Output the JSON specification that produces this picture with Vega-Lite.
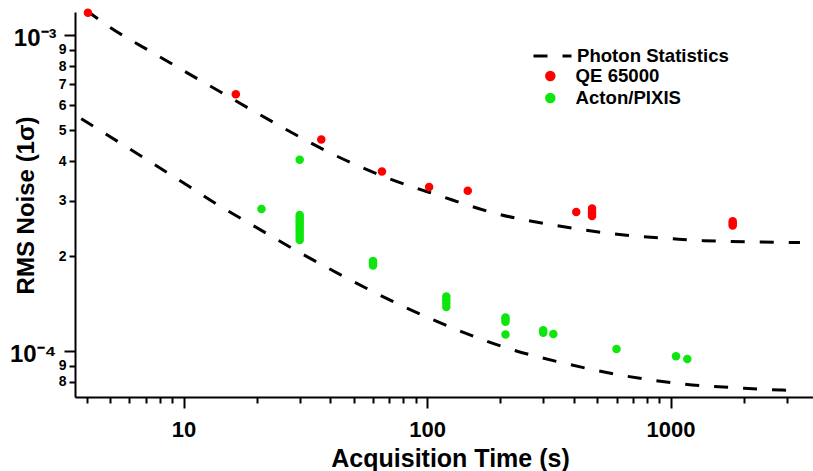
{
  "$schema": "https://vega.github.io/schema/vega-lite/v6.json",
  "width": 738,
  "height": 385,
  "autosize": {"type": "none"},
  "padding": {"left": 75, "top": 12, "right": 0, "bottom": 74},
  "background": "white",
  "config": {"view": {"stroke": null}, "font": "Liberation Sans"},
  "datasets": {
    "curves": [
      {"curve": "upper", "series": "Photon Statistics", "t": 4.0, "v": 0.00120},
      {"curve": "upper", "series": "Photon Statistics", "t": 4.58, "v": 0.00111},
      {"curve": "upper", "series": "Photon Statistics", "t": 8.0, "v": 0.000855},
      {"curve": "upper", "series": "Photon Statistics", "t": 14.53, "v": 0.000655},
      {"curve": "upper", "series": "Photon Statistics", "t": 23.76, "v": 0.000527},
      {"curve": "upper", "series": "Photon Statistics", "t": 39.2, "v": 0.000428},
      {"curve": "upper", "series": "Photon Statistics", "t": 65.95, "v": 0.000358},
      {"curve": "upper", "series": "Photon Statistics", "t": 113, "v": 0.0003105},
      {"curve": "upper", "series": "Photon Statistics", "t": 192, "v": 0.000273},
      {"curve": "upper", "series": "Photon Statistics", "t": 335.6, "v": 0.0002505},
      {"curve": "upper", "series": "Photon Statistics", "t": 586, "v": 0.0002353},
      {"curve": "upper", "series": "Photon Statistics", "t": 1024, "v": 0.000227},
      {"curve": "upper", "series": "Photon Statistics", "t": 1360, "v": 0.000224},
      {"curve": "upper", "series": "Photon Statistics", "t": 3400, "v": 0.000221},
      {"curve": "lower", "series": "Photon Statistics", "t": 3.8, "v": 0.000545},
      {"curve": "lower", "series": "Photon Statistics", "t": 10.63, "v": 0.000331},
      {"curve": "lower", "series": "Photon Statistics", "t": 13.5, "v": 0.000294},
      {"curve": "lower", "series": "Photon Statistics", "t": 17.55, "v": 0.000261},
      {"curve": "lower", "series": "Photon Statistics", "t": 21.96, "v": 0.000236},
      {"curve": "lower", "series": "Photon Statistics", "t": 28.2, "v": 0.000211},
      {"curve": "lower", "series": "Photon Statistics", "t": 46.0, "v": 0.0001718},
      {"curve": "lower", "series": "Photon Statistics", "t": 76.0, "v": 0.0001412},
      {"curve": "lower", "series": "Photon Statistics", "t": 98.8, "v": 0.0001288},
      {"curve": "lower", "series": "Photon Statistics", "t": 219, "v": 0.0001017},
      {"curve": "lower", "series": "Photon Statistics", "t": 375.8, "v": 0.0000912},
      {"curve": "lower", "series": "Photon Statistics", "t": 655, "v": 0.0000835},
      {"curve": "lower", "series": "Photon Statistics", "t": 1147, "v": 0.0000787},
      {"curve": "lower", "series": "Photon Statistics", "t": 2003, "v": 0.0000764},
      {"curve": "lower", "series": "Photon Statistics", "t": 2843, "v": 0.0000754},
      {"curve": "lower", "series": "Photon Statistics", "t": 3400, "v": 0.000075}
    ],
    "points": [
      {"series": "QE 65000", "t": 4.05, "v": 0.00118},
      {"series": "QE 65000", "t": 16.4, "v": 0.000651},
      {"series": "QE 65000", "t": 36.8, "v": 0.000468},
      {"series": "QE 65000", "t": 65.3, "v": 0.000371},
      {"series": "QE 65000", "t": 102, "v": 0.000331},
      {"series": "QE 65000", "t": 147, "v": 0.000322},
      {"series": "QE 65000", "t": 410, "v": 0.000276},
      {"series": "QE 65000", "t": 476, "v": 0.000283},
      {"series": "QE 65000", "t": 476, "v": 0.000278},
      {"series": "QE 65000", "t": 476, "v": 0.000273},
      {"series": "QE 65000", "t": 476, "v": 0.000268},
      {"series": "QE 65000", "t": 1800, "v": 0.000258},
      {"series": "QE 65000", "t": 1800, "v": 0.000254},
      {"series": "QE 65000", "t": 1800, "v": 0.00025},
      {"series": "Acton/PIXIS", "t": 20.9, "v": 0.000282},
      {"series": "Acton/PIXIS", "t": 30, "v": 0.000404},
      {"series": "Acton/PIXIS", "t": 30, "v": 0.00027},
      {"series": "Acton/PIXIS", "t": 30, "v": 0.000265},
      {"series": "Acton/PIXIS", "t": 30, "v": 0.00026},
      {"series": "Acton/PIXIS", "t": 30, "v": 0.000255},
      {"series": "Acton/PIXIS", "t": 30, "v": 0.00025},
      {"series": "Acton/PIXIS", "t": 30, "v": 0.000245},
      {"series": "Acton/PIXIS", "t": 30, "v": 0.00024},
      {"series": "Acton/PIXIS", "t": 30, "v": 0.000235},
      {"series": "Acton/PIXIS", "t": 30, "v": 0.00023},
      {"series": "Acton/PIXIS", "t": 30, "v": 0.000225},
      {"series": "Acton/PIXIS", "t": 60, "v": 0.000193},
      {"series": "Acton/PIXIS", "t": 60, "v": 0.00019},
      {"series": "Acton/PIXIS", "t": 60, "v": 0.000187},
      {"series": "Acton/PIXIS", "t": 120, "v": 0.000149},
      {"series": "Acton/PIXIS", "t": 120, "v": 0.0001455},
      {"series": "Acton/PIXIS", "t": 120, "v": 0.000142},
      {"series": "Acton/PIXIS", "t": 120, "v": 0.000138},
      {"series": "Acton/PIXIS", "t": 210, "v": 0.000128},
      {"series": "Acton/PIXIS", "t": 210, "v": 0.000126},
      {"series": "Acton/PIXIS", "t": 210, "v": 0.000124},
      {"series": "Acton/PIXIS", "t": 210, "v": 0.000113},
      {"series": "Acton/PIXIS", "t": 300, "v": 0.0001165},
      {"series": "Acton/PIXIS", "t": 300, "v": 0.0001145},
      {"series": "Acton/PIXIS", "t": 330, "v": 0.0001135},
      {"series": "Acton/PIXIS", "t": 600, "v": 0.0001017},
      {"series": "Acton/PIXIS", "t": 1053, "v": 0.0000964},
      {"series": "Acton/PIXIS", "t": 1172, "v": 0.0000945}
    ]
  },
  "encoding": {
    "x": {
      "field": "t",
      "type": "quantitative",
      "scale": {"type": "log", "domain": [3.584, 3846], "nice": false},
      "axis": {
        "title": "Acquisition Time (s)",
        "values": [4, 5, 6, 7, 8, 9, 10, 20, 30, 40, 50, 60, 70, 80, 90, 100, 200, 300, 400, 500, 600, 700, 800, 900, 1000, 2000, 3000],
        "labelExpr": "(datum.value == 10 || datum.value == 100 || datum.value == 1000) ? format(datum.value, 'd') : ''",
        "grid": false,
        "domainColor": "black",
        "domainWidth": 2,
        "tickColor": "black",
        "tickWidth": 2,
        "tickSize": {"condition": {"test": "datum.value == 10 || datum.value == 100 || datum.value == 1000", "value": 11}, "value": 6},
        "labelFont": "Liberation Sans",
        "labelFontSize": 22,
        "labelFontWeight": "bold",
        "labelColor": "black",
        "labelPadding": 11,
        "labelFlush": false,
        "labelOverlap": false,
        "titleFont": "Liberation Sans",
        "titleFontSize": 25,
        "titleFontWeight": "bold",
        "titleColor": "black",
        "titleX": 375,
        "titleY": 69,
        "titleAlign": "center",
        "titleBaseline": "alphabetic"
      }
    },
    "y": {
      "field": "v",
      "type": "quantitative",
      "scale": {"type": "log", "domain": [0.00007166, 0.001186], "nice": false},
      "axis": {
        "title": "RMS Noise (1σ)",
        "values": [0.00008, 0.00009, 0.0001, 0.0002, 0.0003, 0.0004, 0.0005, 0.0006, 0.0007, 0.0008, 0.0009, 0.001],
        "labelExpr": "datum.value == 0.001 ? '10⁻³' : datum.value == 0.0001 ? '10⁻⁴' : datum.value < 0.0001 ? format(datum.value * 100000, '.0f') : format(datum.value * 10000, '.0f')",
        "grid": false,
        "domainColor": "black",
        "domainWidth": 2,
        "tickColor": "black",
        "tickWidth": 2,
        "tickSize": {"condition": {"test": "datum.value == 0.001 || datum.value == 0.0001", "value": 11}, "value": 6},
        "labelFont": "Liberation Sans",
        "labelFontSize": {"condition": {"test": "datum.value == 0.001 || datum.value == 0.0001", "value": 24}, "value": 14},
        "labelFontWeight": "bold",
        "labelColor": "black",
        "labelPadding": {"condition": {"test": "datum.value == 0.001 || datum.value == 0.0001", "value": 8}, "value": 3},
        "labelOffset": {"condition": {"test": "datum.value == 0.001 || datum.value == 0.0001", "value": 3}, "value": 0},
        "labelOverlap": false,
        "labelFlush": false,
        "titleFont": "Liberation Sans",
        "titleFontSize": 24,
        "titleFontWeight": "bold",
        "titleColor": "black",
        "titleX": -49,
        "titleY": 193,
        "titleAngle": -90,
        "titleAlign": "center",
        "titleBaseline": "middle"
      }
    }
  },
  "layer": [
    {
      "data": {"name": "curves"},
      "mark": {"type": "line", "strokeWidth": 3, "interpolate": "monotone", "color": "black", "clip": false},
      "encoding": {
        "detail": {"field": "curve"},
        "strokeDash": {
          "field": "series",
          "type": "nominal",
          "scale": {"domain": ["Photon Statistics"], "range": [[14, 15]]},
          "legend": {
            "title": null,
            "orient": "none",
            "legendX": 457,
            "legendY": 33,
            "padding": 0,
            "symbolType": "stroke",
            "symbolSize": 1444,
            "symbolStrokeWidth": 3,
            "symbolStrokeColor": "black",
            "symbolDash": [15, 16],
            "clipHeight": 22,
            "labelOffset": 4,
            "labelFont": "Liberation Sans",
            "labelFontSize": 18.6,
            "labelFontWeight": "bold",
            "labelColor": "black"
          }
        }
      }
    },
    {
      "data": {"name": "points"},
      "mark": {"type": "circle", "size": 72, "opacity": 1},
      "encoding": {
        "color": {
          "field": "series",
          "type": "nominal",
          "scale": {"domain": ["QE 65000", "Acton/PIXIS"], "range": ["#ff0000", "#0ee60e"]},
          "legend": {
            "title": null,
            "orient": "none",
            "legendX": 466,
            "legendY": 53,
            "padding": 0,
            "symbolType": "circle",
            "symbolSize": 110,
            "symbolOpacity": 1,
            "symbolStrokeWidth": 0,
            "clipHeight": 22,
            "rowPadding": 0,
            "labelOffset": 16,
            "labelFont": "Liberation Sans",
            "labelFontSize": 18.6,
            "labelFontWeight": "bold",
            "labelColor": "black"
          }
        }
      }
    }
  ]
}
